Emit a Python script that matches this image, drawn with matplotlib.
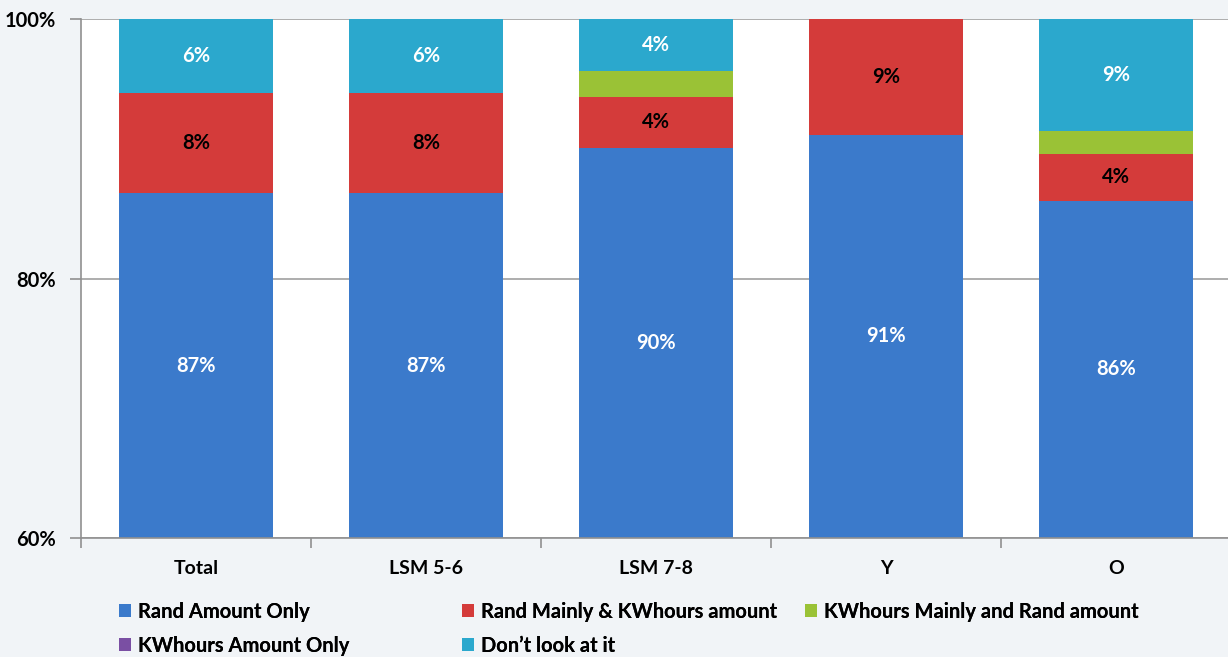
import matplotlib.pyplot as plt
import numpy as np
from matplotlib.patches import Patch

plt.rcParams["font.family"] = ["Lato", "DejaVu Sans"]

categories = ["Total", "LSM 5-6", "LSM 7-8", "Y", "O"]
series_names = [
    "Rand Amount Only",
    "Rand Mainly & KWhours amount",
    "KWhours Mainly and Rand amount",
    "KWhours Amount Only",
    "Don\u2019t look at it",
]
rand_only = [86.6, 86.6, 90.1, 91.1, 86.0]
rand_mainly = [7.7, 7.7, 3.9, 8.9, 3.6]
kwh_mainly = [0.0, 0.0, 2.0, 0.0, 1.8]
kwh_only = [0.0, 0.0, 0.0, 0.0, 0.0]
dont_look = [5.7, 5.7, 4.0, 0.0, 8.6]

colors = ["#3b7acb", "#d43b3a", "#9ac236", "#7a4fa3", "#2ba8cd"]
label_colors = ["white", "black", None, None, "white"]

series = [rand_only, rand_mainly, kwh_mainly, kwh_only, dont_look]

fig = plt.figure(figsize=(12.28, 6.57), dpi=100)
fig.patch.set_facecolor("#f1f4f7")
ax = fig.add_axes([0.066, 0.181, 0.9364, 0.79])
ax.set_facecolor("white")

x = np.arange(len(categories))
ymin, ymax = 60, 100
bottom = np.zeros(len(categories))
for vals, color, lc in zip(series, colors, label_colors):
    vals = np.array(vals)
    ax.bar(x, vals, 0.67, bottom=bottom, color=color, zorder=2)
    if lc is not None:
        for xi, b, v in zip(x, bottom, vals):
            if v < 3:
                continue
            lo = max(b, ymin)
            hi = min(b + v, ymax)
            ax.text(
                xi,
                (lo + hi) / 2,
                f"{round(v):.0f}%",
                ha="center",
                va="center",
                color=lc,
                fontsize=14.5,
                fontweight="bold",
                zorder=3,
            )
    bottom += vals

ax.set_ylim(ymin, ymax)
ax.set_xlim(-0.5, len(categories) - 0.5)
ax.set_yticks([60, 80, 100])
ax.set_yticklabels(["60%", "80%", "100%"], fontsize=14.5, fontweight="bold")
ax.yaxis.grid(True, color="#a0a0a0", linewidth=1.2, zorder=1)
ax.set_xticks(x)
ax.set_xticklabels(categories, fontsize=14, fontweight="bold")
ax.set_xticks(np.arange(-0.5, len(categories)), minor=True)
ax.tick_params(axis="x", which="major", length=0, pad=16)
ax.tick_params(axis="x", which="minor", length=7, color="#909090", width=1.2)
ax.tick_params(axis="y", length=8, color="#909090", width=1.2, pad=10)

for side in ["top", "right"]:
    ax.spines[side].set_visible(False)
for side in ["left", "bottom"]:
    ax.spines[side].set_color("#909090")
    ax.spines[side].set_linewidth(1.2)

handles = [Patch(facecolor=c) for c in colors]
legend_columns = [([0, 3], 0.0969), ([1, 4], 0.3762), ([2], 0.6555)]
for idx, x0 in legend_columns:
    leg = fig.legend(
        [handles[i] for i in idx],
        [series_names[i] for i in idx],
        loc="upper left",
        bbox_to_anchor=(x0, 0.084),
        frameon=False,
        prop={"size": 14.5, "weight": "bold"},
        handlelength=0.6,
        handleheight=0.6,
        handletextpad=0.35,
        labelspacing=0.7,
        borderaxespad=0,
        borderpad=0,
    )
    fig.add_artist(leg)

fig.savefig("out.png", dpi=100, facecolor=fig.get_facecolor())
